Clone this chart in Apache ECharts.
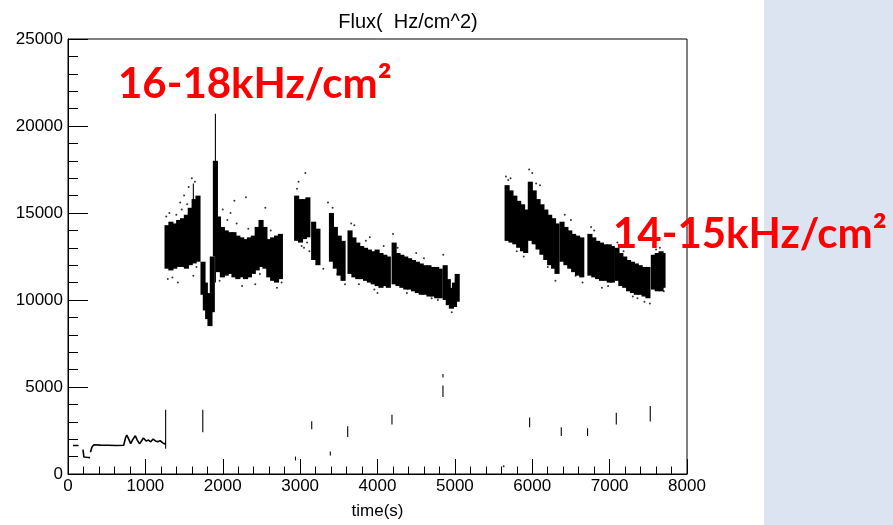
<!DOCTYPE html>
<html>
<head>
<meta charset="utf-8">
<script src="https://cdn.jsdelivr.net/npm/echarts@6/dist/echarts.min.js"></script>
<style>
  html, body { margin: 0; padding: 0; background: #fff; }
  #chart { width: 893px; height: 525px; }
</style>
</head>
<body>
<div id="chart"></div>
<script>
// Flux vs time: dense bands are stored as time bins (centre, low, high edge of the dense core)
const bandT = [
  1280, 1330, 1380, 1430, 1480, 1530, 1580, 1630, 1680,
  1745, 1775, 1805, 1835, 1865,
  1905,
  1945, 1995, 2045, 2095, 2145, 2195, 2245, 2295, 2345, 2395, 2445, 2495, 2545, 2595, 2645, 2695, 2745,
  2955, 3005, 3055, 3100,
  3175, 3230,
  3405, 3455, 3505, 3555,
  3645, 3695, 3745, 3795, 3845, 3895, 3945, 3995, 4045, 4095, 4140,
  4215, 4265, 4315, 4365, 4415, 4465, 4515, 4565, 4615, 4665, 4715, 4765, 4810,
  4875, 4915, 4955, 4995, 5030,
  5675, 5725, 5775, 5825, 5875, 5915,
  5975, 6025, 6075, 6125, 6175, 6225, 6275, 6320,
  6385, 6435, 6485, 6535, 6585, 6640,
  6745, 6795, 6845, 6895, 6945, 6995, 7035,
  7095, 7145, 7195, 7245, 7295, 7345, 7395, 7445, 7495,
  7565, 7615, 7665, 7690
];
const bandLo = [
  11800, 11700, 11800, 11900, 11900, 11800, 12000, 12100, 12200,
  10300, 9400, 8900, 8500, 9300,
  12500,
  11600, 11300, 11400, 11500, 11300, 11200, 11300, 11200, 11300, 11500, 11700, 11900, 11800, 11300, 11100, 11000, 11200,
  13400, 13300, 13500, 13600,
  12300, 12000,
  12200, 11800, 11400, 11100,
  11500, 11300, 11200, 11200, 11100, 11000, 10900, 10800, 10700, 10800, 10700,
  10900, 10800, 10700, 10600, 10600, 10500, 10400, 10300, 10300, 10200, 10200, 10100, 10100,
  10000, 9700, 9500, 9600, 9900,
  13400, 13300, 13200, 13000, 12800, 12700,
  13400, 13200, 12900, 12600, 12300, 12000, 11800, 11500,
  12200, 12000, 11800, 11600, 11400, 11300,
  11400, 11300, 11200, 11100, 11100, 11000, 11000,
  11100, 10800, 10700, 10500, 10400, 10300, 10300, 10200, 10100,
  10600, 10500, 10500, 10700
];
const bandHi = [
  14300, 14500, 14400, 14600, 14700, 14900, 15300, 15800, 16000,
  12200, 11000, 10400, 10000, 12500,
  18000,
  14800, 14200, 14000, 13900, 13900, 13700, 13600, 13500, 13600, 13700, 14200, 14600, 14200, 13500, 13600, 13700, 13800,
  16000, 15800, 15800, 15900,
  14500, 14100,
  15000, 14200, 13700, 13400,
  14000, 13600, 13300, 13100, 13000, 12900, 12800, 12900, 12700, 12600, 12500,
  13300, 12700, 12600, 12500, 12400, 12300, 12200, 12100, 12000, 12000, 11900, 11900, 11800,
  12000, 11200, 10700, 11000, 11500,
  16600, 16300, 16000, 15700, 15500, 15200,
  16800, 16300, 15800, 15500, 15200, 14900, 14700, 14400,
  14500, 14200, 14000, 13800, 13700, 13600,
  13800, 13600, 13400, 13300, 13200, 13200, 13100,
  13000, 12700, 12500, 12300, 12200, 12100, 12000, 11900, 11900,
  12600, 12700, 12800, 12700
];

// short vertical streaks: time, low, high
const streakT  = [1262, 1620, 1742, 1905, 2940, 3150, 3390, 3615, 4187, 4846, 4846, 5966, 6375, 6715, 7086, 7525];
const streakLo = [1450, 15500, 2400, 11000, 780, 2570, 1060, 2120, 2850, 5550, 4430, 2680, 2180, 2180, 2850, 3020];
const streakHi = [3690, 16700, 3690, 20700, 1000, 3030, 1290, 2740, 3410, 5740, 5090, 3240, 2680, 2630, 3520, 3910];

// low-flux start of the run
const startT = [65, 137, null, 194, 205, 220, 240, 260, 285, null,
  290, 310, 335, 420, 520, 620, 720, 745, 760, 785, 810, 840, 870, 895, 925, 950, 975,
  1010, 1040, 1070, 1100, 1130, 1160, 1190, 1220, 1250, 1262];
const startV = [1640, 1640, null, 1400, 980, 900, 960, 880, 940, null,
  1250, 1550, 1680, 1660, 1650, 1640, 1650, 2100, 2240, 2000, 1750, 2000, 2200, 1950, 1730, 1900, 2070,
  1900, 1950, 1850, 2010, 1900, 1850, 1920, 1800, 1720, 1800];

// isolated points around the bands
const dotT = [1600, 1560, 1500, 1450, 1640, 1290, 1350, 1420, 1620, 2000, 2100, 2150, 2300, 2250, 2420,
  2550, 2700, 2980, 3067, 3050, 3120, 3300, 3360, 3580, 3700, 3900, 4000, 4200, 4500, 4700, 4850,
  5660, 5720, 5960, 6000, 6100, 6300, 6500, 6650, 6800, 6900, 7100, 7300, 7450, 7520, 7580, 7650, 5630,
  1270, 1310, 1400, 1470, 1540, 1660, 1960, 2060, 2180, 2330, 2480, 2620, 2760, 2960, 3020, 3090,
  3420, 3480, 3660, 3760, 3850, 3960, 4080, 4260, 4380, 4600, 4780, 4960, 5690, 5800, 5890, 6050,
  6200, 6420, 6560, 6760, 6980, 7180, 7360, 7600, 7700];
const dotV = [17000, 16500, 16000, 15600, 16800, 11200, 11300, 11000, 11400, 15200, 15000, 15700, 15900, 10800, 10900,
  15300, 10700, 16800, 17300, 13000, 12800, 11800, 15600, 10900, 14300, 13600, 10400, 13800, 12700, 10100, 12600,
  17100, 17000, 17500, 17300, 16600, 11100, 14600, 11000, 14000, 10700, 13300, 10200, 9900, 9800, 13100, 13000, 450,
  14800, 15000, 14900, 15200, 15500, 11900, 11100, 14600, 14400, 14100, 11500, 14000, 11000, 16400, 13100, 13300,
  15300, 11500, 14400, 10900, 13400, 10600, 13100, 13000, 10400, 12400, 10000, 9300, 16900, 12800, 12500, 16700,
  11900, 14900, 11400, 14200, 10800, 12800, 10100, 12900, 10500];

const xTicks = { min: 0, max: 8000, step: 1000 };
const yTicks = { min: 0, max: 25000, step: 5000 };

const BIN_HALF = 33;     // half width of a band bin, seconds (bins overlap so no seams show)
const STREAK_HALF = 7;   // half width of a streak, seconds

const bandData = bandT.map((t, i) => [t - BIN_HALF, t + BIN_HALF, bandLo[i], bandHi[i]]);
const streakData = streakT.map((t, i) => [t - STREAK_HALF, t + STREAK_HALF, streakLo[i], streakHi[i]]);
const startData = startT.map((t, i) => (t === null ? [null, null] : [t, startV[i]]));
const dotData = dotT.map((t, i) => [t, dotV[i]]);

function rangeRect(params, api) {
  const a = api.coord([api.value(0), api.value(3)]);
  const b = api.coord([api.value(1), api.value(2)]);
  return {
    type: 'rect',
    shape: { x: a[0], y: a[1], width: Math.max(1, b[0] - a[0]), height: b[1] - a[1] },
    style: { fill: '#000', stroke: null }
  };
}

const axisFont = { fontFamily: 'Liberation Sans, Arial, sans-serif', fontSize: 17, color: '#000' };
const plain = v => String(v);

const chart = echarts.init(document.getElementById('chart'), null, { renderer: 'canvas' });
chart.setOption({
  animation: false,
  backgroundColor: '#fff',
  grid: { left: 68, top: 39, width: 619, height: 447, show: true, borderColor: '#000', borderWidth: 1, backgroundColor: 'transparent' },
  xAxis: {
    type: 'value', min: xTicks.min, max: xTicks.max, interval: xTicks.step,
    name: 'time(s)', nameLocation: 'middle', nameGap: 29,
    nameTextStyle: axisFont,
    axisLine: { lineStyle: { color: '#000', width: 1 } },
    axisTick: { inside: true, length: 15, lineStyle: { color: '#000' } },
    minorTick: { show: true, splitNumber: 5, length: 7.5, lineStyle: { color: '#000' } },
    axisLabel: Object.assign({ margin: 4, formatter: plain }, axisFont),
    splitLine: { show: false }
  },
  yAxis: {
    type: 'value', min: yTicks.min, max: yTicks.max, interval: yTicks.step,
    axisLine: { lineStyle: { color: '#000', width: 1 } },
    axisTick: { inside: true, length: 20, lineStyle: { color: '#000' } },
    minorTick: { show: true, splitNumber: 5, length: 10, lineStyle: { color: '#000' } },
    axisLabel: Object.assign({ margin: 5, formatter: plain }, axisFont),
    splitLine: { show: false }
  },
  graphic: [
    { type: 'rect', z: 0, shape: { x: 764, y: 0, width: 129, height: 525 }, style: { fill: '#DCE4F1' } },
    { type: 'text', z: 10, style: { x: 408, y: 22, text: 'Flux(  Hz/cm^2)', align: 'center', verticalAlign: 'middle',
      font: '20px "Liberation Sans", Arial, sans-serif', fill: '#000' } },
    { type: 'text', z: 100, style: { x: 118, y: 84, text: '16-18kHz/cm²', align: 'left', verticalAlign: 'middle',
      font: 'bold 42px Lato, "Open Sans", sans-serif', fill: '#FF0000' } },
    { type: 'text', z: 100, style: { x: 613, y: 234, text: '14-15kHz/cm²', align: 'left', verticalAlign: 'middle',
      font: 'bold 42px Lato, "Open Sans", sans-serif', fill: '#FF0000' } }
  ],
  series: [
    { type: 'custom', name: 'band', renderItem: rangeRect, data: bandData, encode: { x: [0, 1], y: [2, 3] }, clip: true },
    { type: 'custom', name: 'streak', renderItem: rangeRect, data: streakData, encode: { x: [0, 1], y: [2, 3] }, clip: true },
    { type: 'line', name: 'start', data: startData, showSymbol: false, connectNulls: false,
      lineStyle: { color: '#000', width: 1.6 } },
    { type: 'scatter', name: 'dots', data: dotData, symbolSize: 2, itemStyle: { color: '#000' } }
  ]
});
</script>
</body>
</html>
